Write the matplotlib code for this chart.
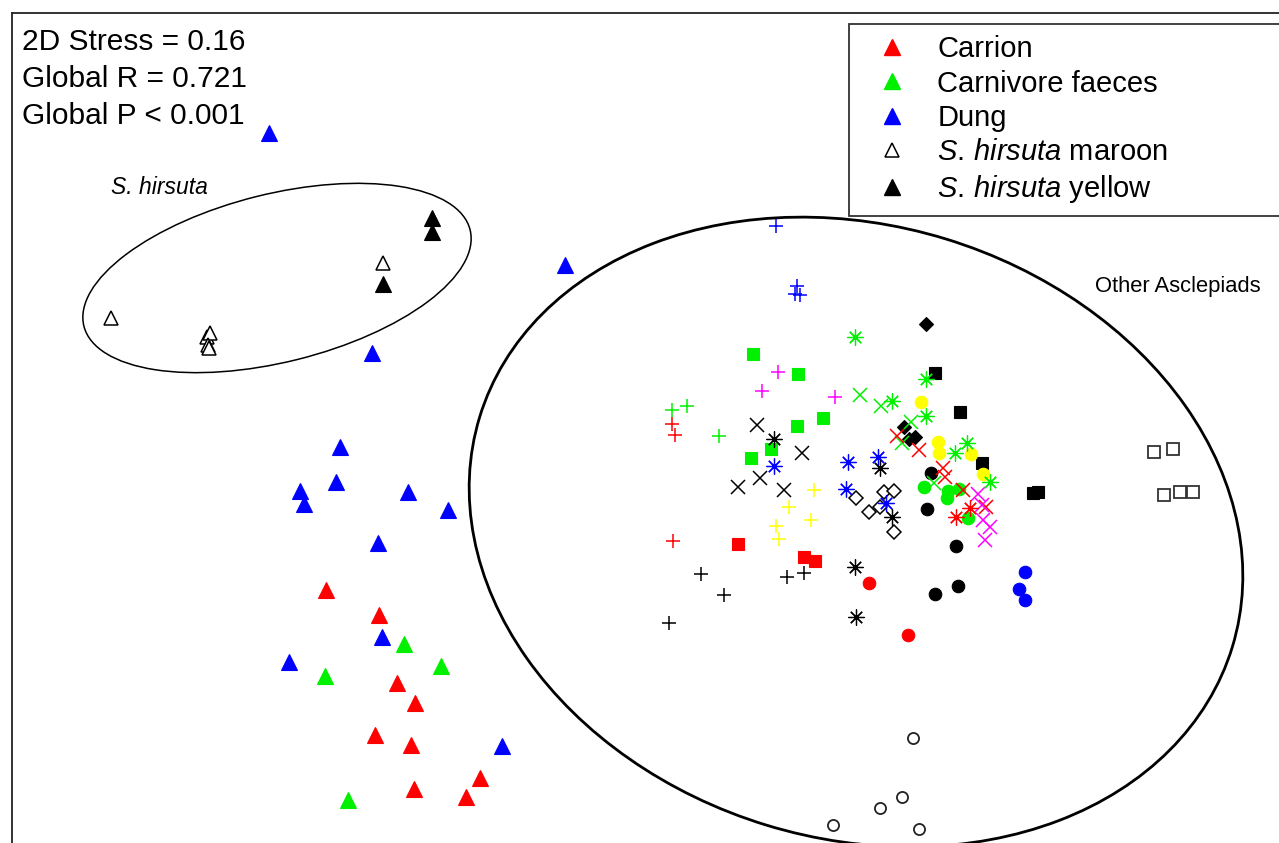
import matplotlib
matplotlib.use('Agg')
import matplotlib.pyplot as plt
from matplotlib.patches import Ellipse
from matplotlib.lines import Line2D

plt.rcParams['font.family'] = ['Liberation Sans', 'DejaVu Sans']
plt.rcParams['mathtext.fontset'] = 'custom'
plt.rcParams['mathtext.rm'] = 'Liberation Sans'
plt.rcParams['mathtext.it'] = 'Liberation Sans:italic'

# nMDS scores (axis 1, axis 2) per sample group
# --- odour sources (triangles)
dung = [(-3.71, 2.97), (-0.75, 1.65), (-2.68, 0.77), (-3.00, -0.17), (-3.04, -0.52),
        (-3.40, -0.61), (-3.36, -0.74), (-2.32, -0.62), (-1.92, -0.80), (-2.62, -1.13),
        (-2.58, -2.07), (-3.51, -2.32), (-1.38, -3.16)]
carrion = [(-3.14, -1.60), (-2.61, -1.85), (-2.43, -2.53), (-2.25, -2.73), (-2.65, -3.05),
           (-2.29, -3.15), (-1.60, -3.48), (-2.26, -3.59), (-1.74, -3.67)]
carnivore_faeces = [(-2.36, -2.14), (-1.99, -2.36), (-3.15, -2.46), (-2.92, -3.70)]
hirsuta_maroon = [(-5.29, 1.12), (-4.33, 0.93), (-4.30, 0.97), (-4.32, 0.85),
                  (-4.31, 0.82), (-2.57, 1.67)]
hirsuta_yellow = [(-2.08, 2.12), (-2.08, 1.98), (-2.57, 1.46)]

# --- other asclepiads
blue_plus = [(1.36, 2.04), (1.57, 1.44), (1.60, 1.35), (1.55, 1.36)]
green_plus = [(0.32, 0.20), (0.47, 0.24), (0.79, -0.06)]
red_plus = [(0.32, 0.06), (0.35, -0.05), (0.33, -1.11)]
magenta_plus = [(1.38, 0.58), (1.22, 0.39), (1.95, 0.33)]
yellow_plus = [(1.74, -0.60), (1.49, -0.77), (1.71, -0.90), (1.36, -0.96), (1.39, -1.09)]
black_plus = [(0.61, -1.44), (0.84, -1.65), (0.29, -1.93), (1.47, -1.47), (1.64, -1.43)]

green_square = [(1.13, 0.76), (1.58, 0.56), (1.83, 0.12), (1.57, 0.04), (1.31, -0.19), (1.11, -0.28)]
red_square = [(0.98, -1.14), (1.64, -1.27), (1.75, -1.31)]
black_square = [(2.95, 0.57), (3.20, 0.18), (3.42, -0.33), (3.93, -0.63), (3.98, -0.62)]
open_square = [(5.14, -0.22), (5.33, -0.19), (5.24, -0.65), (5.40, -0.62), (5.53, -0.62)]

yellow_circle = [(2.81, 0.28), (2.98, -0.12), (2.99, -0.23), (3.31, -0.24), (3.43, -0.44)]
black_circle = [(2.91, -0.43), (2.87, -0.79), (3.16, -1.16), (3.18, -1.56), (2.95, -1.64)]
green_circle = [(2.84, -0.57), (3.08, -0.61), (3.07, -0.68), (3.19, -0.59), (3.28, -0.88)]
red_circle = [(2.29, -1.53), (2.68, -2.05)]
blue_circle = [(3.85, -1.42), (3.79, -1.59), (3.85, -1.70)]
open_circle = [(2.73, -3.08), (2.62, -3.67), (2.40, -3.78), (1.93, -3.95), (2.79, -3.99)]

black_diamond = [(2.86, 1.06), (2.64, 0.03), (2.69, -0.09), (2.75, -0.07)]
open_diamond = [(2.16, -0.68), (2.44, -0.62), (2.54, -0.61), (2.29, -0.82), (2.40, -0.77), (2.54, -1.02)]

black_cross = [(1.17, 0.05), (1.62, -0.23), (1.20, -0.48), (0.98, -0.57), (1.44, -0.60)]
green_cross = [(2.20, 0.35), (2.41, 0.24), (2.71, 0.08), (2.62, -0.13), (2.94, -0.53)]
red_cross = [(2.57, -0.06), (2.79, -0.20), (3.03, -0.38), (3.05, -0.47), (3.23, -0.60), (3.46, -0.77)]
magenta_cross = [(3.38, -0.64), (3.42, -0.75), (3.43, -0.90), (3.50, -0.97), (3.45, -1.10)]

green_star = [(2.15, 0.93), (2.86, 0.51), (2.52, 0.29), (2.86, 0.14), (3.27, -0.13), (3.15, -0.23), (3.50, -0.52)]
blue_star = [(1.34, -0.36), (2.08, -0.32), (2.38, -0.27), (2.06, -0.59), (2.46, -0.73)]
black_star = [(1.34, -0.09), (2.40, -0.38), (2.52, -0.87), (2.15, -1.37), (2.16, -1.87)]
red_star = [(3.16, -0.87), (3.30, -0.78)]

RED, GREEN, BLUE = '#ff0000', '#00f000', '#0000ff'
YELLOW, MAGENTA, BLACK = '#ffff00', '#ff00ff', '#000000'
STAR = (8, 2, 0)
TRI = 11.3


def plot_group(ax, pts, marker, color, ms, hollow=False, mew=0.8):
    xs = [p[0] for p in pts]
    ys = [p[1] for p in pts]
    ax.plot(xs, ys, ls='none', marker=marker, ms=ms, color=color,
            mfc='white' if hollow else color, mec=color, mew=mew)


fig = plt.figure(figsize=(12.79, 8.43), dpi=100)
ax = fig.add_axes([12 / 1279, -7 / 843, 1270 / 1279, 837 / 843])
ax.set_xlim(-6.28, 6.42)
ax.set_ylim(-4.20, 4.17)
ax.set_xticks([])
ax.set_yticks([])
for sp in ax.spines.values():
    sp.set_linewidth(1.3)
    sp.set_color('#222222')

# group ellipses
ax.add_patch(Ellipse((-3.63, 1.52), 3.98, 1.68, angle=14, fill=False, lw=1.1, color='black'))
ax.add_patch(Ellipse((2.16, -1.02), 7.87, 6.13, angle=-17, fill=False, lw=2.0, color='black'))
ax.text(-5.29, 2.43, 'S. hirsuta', style='italic', fontsize=16.5, va='center', ha='left')
ax.text(4.55, 1.38, 'Other Asclepiads', fontsize=15.8, va='baseline', ha='left')

# triangles
plot_group(ax, dung, '^', BLUE, TRI)
plot_group(ax, carrion, '^', RED, TRI)
plot_group(ax, carnivore_faeces, '^', GREEN, TRI)
plot_group(ax, hirsuta_maroon, '^', BLACK, 10, hollow=True, mew=1.1)
plot_group(ax, hirsuta_yellow, '^', BLACK, TRI)

# plus signs
for pts, c in [(blue_plus, BLUE), (green_plus, GREEN), (red_plus, RED),
               (magenta_plus, MAGENTA), (yellow_plus, YELLOW), (black_plus, BLACK)]:
    plot_group(ax, pts, '+', c, 10.5, mew=1.1)

# squares
for pts, c in [(green_square, GREEN), (red_square, RED), (black_square, BLACK)]:
    plot_group(ax, pts, 's', c, 9)
plot_group(ax, open_square, 's', '#333333', 8.5, hollow=True, mew=1.3)

# circles
for pts, c in [(yellow_circle, YELLOW), (black_circle, BLACK), (green_circle, GREEN),
               (red_circle, RED), (blue_circle, BLUE)]:
    plot_group(ax, pts, 'o', c, 9)
plot_group(ax, open_circle, 'o', '#222222', 8, hollow=True, mew=1.3)

# diamonds
plot_group(ax, black_diamond, 'D', BLACK, 7.3)
plot_group(ax, open_diamond, 'D', BLACK, 7, hollow=True, mew=1.1)

# crosses
for pts, c in [(black_cross, BLACK), (green_cross, GREEN), (red_cross, RED), (magenta_cross, MAGENTA)]:
    plot_group(ax, pts, 'x', c, 10.5, mew=1.1)

# asterisks
for pts, c in [(green_star, GREEN), (blue_star, BLUE), (black_star, BLACK), (red_star, RED)]:
    plot_group(ax, pts, STAR, c, 11.5, mew=0.9)

# stress / ANOSIM results
ax.text(-6.18, 3.80, '2D Stress = 0.16', fontsize=21.5, va='baseline')
ax.text(-6.18, 3.43, 'Global R = 0.721', fontsize=21.5, va='baseline')
ax.text(-6.18, 3.06, 'Global P < 0.001', fontsize=21.5, va='baseline')

handles = [
    Line2D([], [], ls='none', marker='^', ms=TRI, color=RED),
    Line2D([], [], ls='none', marker='^', ms=TRI, color=GREEN),
    Line2D([], [], ls='none', marker='^', ms=TRI, color=BLUE),
    Line2D([], [], ls='none', marker='^', ms=10, color=BLACK, mfc='white', mew=1.1),
    Line2D([], [], ls='none', marker='^', ms=TRI, color=BLACK),
]
labels = ['Carrion', 'Carnivore faeces', 'Dung',
          r'$\it{S.\,hirsuta}$ maroon', r'$\it{S.\,hirsuta}$ yellow']
leg = ax.legend(handles, labels, loc='upper left', mode='expand',
                bbox_to_anchor=(849 / 1279, 1 - 24 / 843, 440 / 1279, 0),
                bbox_transform=fig.transFigure, borderaxespad=0,
                fontsize=21, fancybox=False, framealpha=1, edgecolor='#333333',
                borderpad=0.38, labelspacing=0.22, handletextpad=0.45, handlelength=2.2)
leg.get_frame().set_linewidth(1.3)

fig.savefig('out.png', dpi=100)
